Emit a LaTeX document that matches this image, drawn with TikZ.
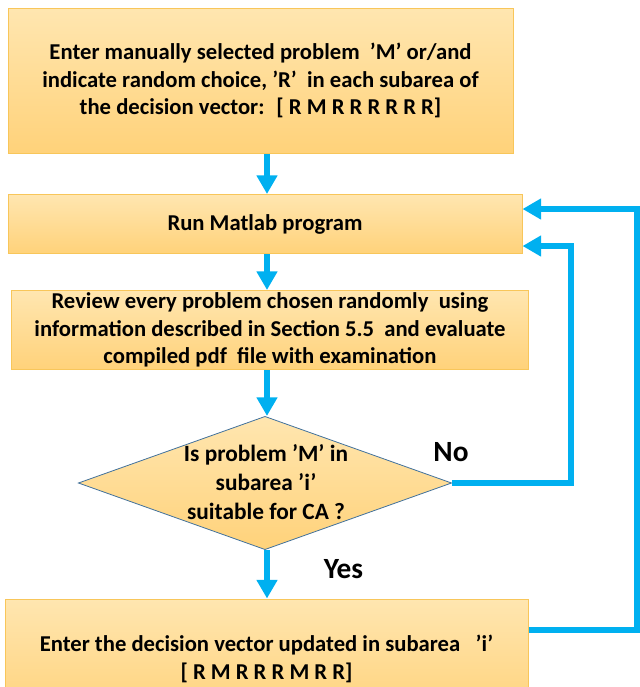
\documentclass[tikz,border=0pt]{standalone}
\usepackage{fontspec}
\setmainfont{Carlito}
\usetikzlibrary{arrows.meta,shapes.geometric,calc}
\definecolor{flowcyan}{HTML}{00B0F0}
\definecolor{boxtop}{HTML}{FFE6B0}
\definecolor{boxbot}{HTML}{FFD27A}
\definecolor{boxline}{HTML}{F8C65A}
\definecolor{dialine}{HTML}{41719C}
\begin{document}
\begin{tikzpicture}[x=0.75pt,y=-0.75pt,
  box/.style={rectangle, draw=boxline, line width=0.75pt, top color=boxtop, bottom color=boxbot,
    font=\fontsize{17}{20.8}\selectfont\bfseries, align=center, inner sep=0pt},
  decshape/.style={diamond, draw=dialine, line width=0.6pt, top color=boxtop, bottom color=boxbot, inner sep=0pt},
  dectext/.style={font=\fontsize{17.5}{21.8}\selectfont\bfseries, align=center, inner sep=0pt},
  flow/.style={draw=flowcyan, line width=4.5pt, -{Triangle[width=15pt,length=14pt]}},
  lbl/.style={font=\fontsize{22}{26}\selectfont\bfseries, inner sep=0pt}
]
\clip (0,0) rectangle (640,687);
\coordinate (axis) at (267,0);
\coordinate (rx1) at (571,0);
\coordinate (rx2) at (637,0);

\node[box, minimum width=378.75pt, minimum height=108.75pt] (b1) at (260.5,80.5)
  {Enter manually selected problem \ ’M’ or/and\\indicate random choice, ’R’ \ in each subarea of\\the decision vector: \ [ R M R R R R R R]};
\node[box, minimum width=385.5pt, minimum height=44.25pt] (b2) at (265,224) {Run Matlab program};
\node[box, minimum width=387.75pt, minimum height=59.25pt] (b3) at (270,330)
  {Review every problem chosen randomly \ using\\information described in Section 5.5 \ and evaluate\\compiled pdf \ file with examination};
\node[decshape, minimum width=280pt, minimum height=100pt] (d) at (265,483) {};
\node[dectext] (dt) at (266,482) {Is problem ’M’ in\\subarea ’i’\\suitable for CA ?};
\node[box, minimum width=392.25pt, minimum height=90pt] (b5) at (266.5,659)
  {Enter the decision vector updated in subarea \ \ ’i’\\{}[ R M R R R M R R]};

\node[lbl] (no) at (451,452) {No};
\node[lbl] (yes) at (343.5,569) {Yes};

\draw[flow] (b1.south -| axis) -- (b2.north -| axis);
\draw[flow] (b2.south -| axis) -- (b3.north -| axis);
\draw[flow] (b3.south -| axis) -- (d.north -| axis);
\draw[flow] (d.south -| axis) -- (b5.north -| axis);

\draw[flow] (d.east) -- (d.east -| rx1) -- ([yshift=-16.5pt]b2.east -| rx1) -- ([yshift=-16.5pt]b2.east);
\draw[flow] ([yshift=21.75pt]b5.east) -- ([yshift=21.75pt]b5.east -| rx2) -- ([yshift=11.25pt]b2.east -| rx2) -- ([yshift=11.25pt]b2.east);
\end{tikzpicture}
\end{document}
